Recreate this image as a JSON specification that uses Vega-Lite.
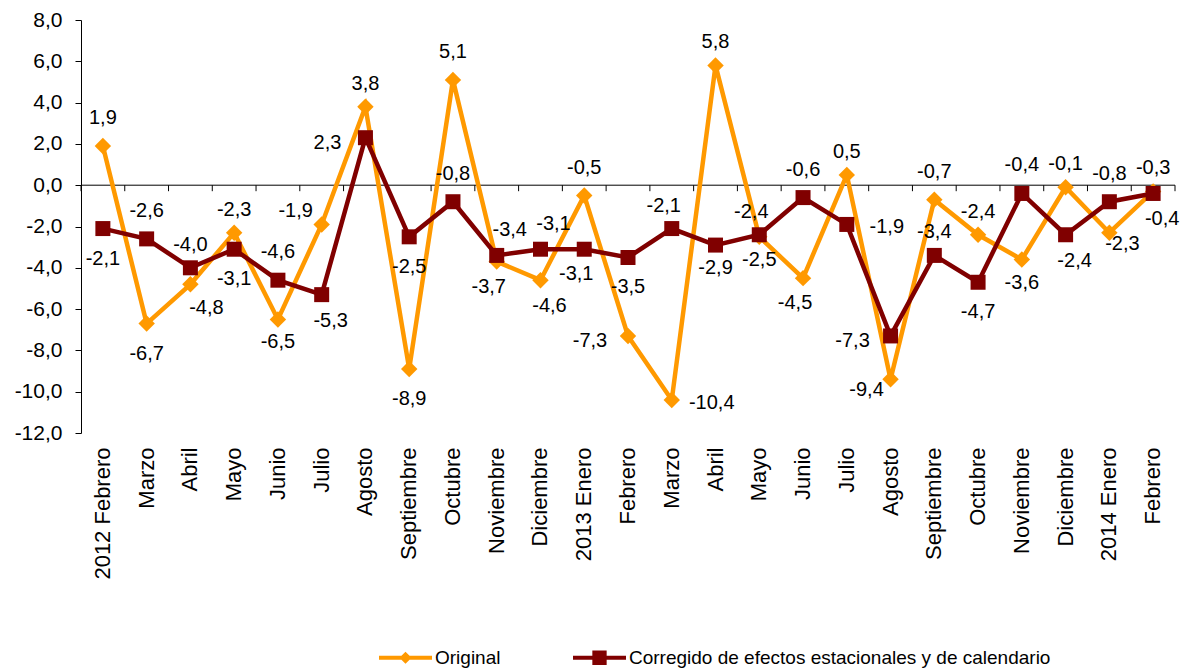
{
  "$schema": "https://vega.github.io/schema/vega-lite/v6.json",
  "width": 1094,
  "height": 413,
  "autosize": {"type": "none"},
  "padding": {"left": 81, "top": 20, "right": 12, "bottom": 236},
  "background": "white",
  "config": {
    "view": {"stroke": null},
    "font": "Liberation Sans",
    "locale": {"number": {"decimal": ",", "thousands": ".", "grouping": [3], "currency": ["", " €"], "minus": "-"}}
  },
  "data": {"values": [
    {"periodo": "2012-02", "serie": "Original", "valor": 1.9},
    {"periodo": "2012-03", "serie": "Original", "valor": -6.7},
    {"periodo": "2012-04", "serie": "Original", "valor": -4.8},
    {"periodo": "2012-05", "serie": "Original", "valor": -2.3},
    {"periodo": "2012-06", "serie": "Original", "valor": -6.5},
    {"periodo": "2012-07", "serie": "Original", "valor": -1.9},
    {"periodo": "2012-08", "serie": "Original", "valor": 3.8},
    {"periodo": "2012-09", "serie": "Original", "valor": -8.9},
    {"periodo": "2012-10", "serie": "Original", "valor": 5.1},
    {"periodo": "2012-11", "serie": "Original", "valor": -3.7},
    {"periodo": "2012-12", "serie": "Original", "valor": -4.6},
    {"periodo": "2013-01", "serie": "Original", "valor": -0.5},
    {"periodo": "2013-02", "serie": "Original", "valor": -7.3},
    {"periodo": "2013-03", "serie": "Original", "valor": -10.4},
    {"periodo": "2013-04", "serie": "Original", "valor": 5.8},
    {"periodo": "2013-05", "serie": "Original", "valor": -2.5},
    {"periodo": "2013-06", "serie": "Original", "valor": -4.5},
    {"periodo": "2013-07", "serie": "Original", "valor": 0.5},
    {"periodo": "2013-08", "serie": "Original", "valor": -9.4},
    {"periodo": "2013-09", "serie": "Original", "valor": -0.7},
    {"periodo": "2013-10", "serie": "Original", "valor": -2.4},
    {"periodo": "2013-11", "serie": "Original", "valor": -3.6},
    {"periodo": "2013-12", "serie": "Original", "valor": -0.1},
    {"periodo": "2014-01", "serie": "Original", "valor": -2.3},
    {"periodo": "2014-02", "serie": "Original", "valor": -0.3},
    {"periodo": "2012-02", "serie": "Corregido de efectos estacionales y de calendario", "valor": -2.1},
    {"periodo": "2012-03", "serie": "Corregido de efectos estacionales y de calendario", "valor": -2.6},
    {"periodo": "2012-04", "serie": "Corregido de efectos estacionales y de calendario", "valor": -4.0},
    {"periodo": "2012-05", "serie": "Corregido de efectos estacionales y de calendario", "valor": -3.1},
    {"periodo": "2012-06", "serie": "Corregido de efectos estacionales y de calendario", "valor": -4.6},
    {"periodo": "2012-07", "serie": "Corregido de efectos estacionales y de calendario", "valor": -5.3},
    {"periodo": "2012-08", "serie": "Corregido de efectos estacionales y de calendario", "valor": 2.3},
    {"periodo": "2012-09", "serie": "Corregido de efectos estacionales y de calendario", "valor": -2.5},
    {"periodo": "2012-10", "serie": "Corregido de efectos estacionales y de calendario", "valor": -0.8},
    {"periodo": "2012-11", "serie": "Corregido de efectos estacionales y de calendario", "valor": -3.4},
    {"periodo": "2012-12", "serie": "Corregido de efectos estacionales y de calendario", "valor": -3.1},
    {"periodo": "2013-01", "serie": "Corregido de efectos estacionales y de calendario", "valor": -3.1},
    {"periodo": "2013-02", "serie": "Corregido de efectos estacionales y de calendario", "valor": -3.5},
    {"periodo": "2013-03", "serie": "Corregido de efectos estacionales y de calendario", "valor": -2.1},
    {"periodo": "2013-04", "serie": "Corregido de efectos estacionales y de calendario", "valor": -2.9},
    {"periodo": "2013-05", "serie": "Corregido de efectos estacionales y de calendario", "valor": -2.4},
    {"periodo": "2013-06", "serie": "Corregido de efectos estacionales y de calendario", "valor": -0.6},
    {"periodo": "2013-07", "serie": "Corregido de efectos estacionales y de calendario", "valor": -1.9},
    {"periodo": "2013-08", "serie": "Corregido de efectos estacionales y de calendario", "valor": -7.3},
    {"periodo": "2013-09", "serie": "Corregido de efectos estacionales y de calendario", "valor": -3.4},
    {"periodo": "2013-10", "serie": "Corregido de efectos estacionales y de calendario", "valor": -4.7},
    {"periodo": "2013-11", "serie": "Corregido de efectos estacionales y de calendario", "valor": -0.4},
    {"periodo": "2013-12", "serie": "Corregido de efectos estacionales y de calendario", "valor": -2.4},
    {"periodo": "2014-01", "serie": "Corregido de efectos estacionales y de calendario", "valor": -0.8},
    {"periodo": "2014-02", "serie": "Corregido de efectos estacionales y de calendario", "valor": -0.4}
  ]},
  "layer": [
    {"data": {"values": [{}]},
     "mark": {"type": "rule", "color": "#000000", "strokeWidth": 1},
     "encoding": {"y": {"datum": 0, "type": "quantitative"}}},
    {
      "encoding": {
        "x": {
          "field": "periodo", "type": "ordinal",
          "scale": {"type": "band", "paddingInner": 0, "paddingOuter": 0},
          "axis": {
            "title": null, "orient": "bottom",
            "domain": false, "ticks": false,
            "grid": false, "labelAngle": -90, "labelPadding": 14, "labelOverlap": false,
            "labelFontSize": 22, "labelFont": "Liberation Sans", "labelColor": "#000000",
            "labelExpr": "(datum.value == '2012-02' || slice(datum.value, 5) == '01' ? slice(datum.value, 0, 4) + ' ' : '') + ['Enero','Febrero','Marzo','Abril','Mayo','Junio','Julio','Agosto','Septiembre','Octubre','Noviembre','Diciembre'][toNumber(slice(datum.value, 5)) - 1]"
          }
        },
        "y": {
          "field": "valor", "type": "quantitative",
          "scale": {"domain": [-12, 8], "nice": false, "zero": false},
          "axis": {
            "title": null, "values": [-12, -10, -8, -6, -4, -2, 0, 2, 4, 6, 8], "format": ".1f",
            "grid": false, "domainColor": "#000000", "tickColor": "#000000", "tickSize": 6,
            "labelPadding": 13, "labelFontSize": 21, "labelFont": "Liberation Sans", "labelColor": "#000000"
          }
        }
      },
      "layer": [
        {"transform": [{"filter": "datum.serie == 'Original'"}],
         "mark": {"type": "rule", "color": "#000000", "strokeWidth": 1},
         "encoding": {"x": {"field": "periodo", "type": "ordinal", "bandPosition": 0}, "y": {"datum": 0, "type": "quantitative"}, "y2": {"datum": -0.29}}},
        {"transform": [{"filter": "datum.serie == 'Original' && datum.periodo == '2014-02'"}],
         "mark": {"type": "rule", "color": "#000000", "strokeWidth": 1},
         "encoding": {"x": {"field": "periodo", "type": "ordinal", "bandPosition": 1}, "y": {"datum": 0, "type": "quantitative"}, "y2": {"datum": -0.29}}},
        {"transform": [{"filter": "datum.serie == 'Original'"}],
         "mark": {"type": "line", "color": "#FF9900", "strokeWidth": 4.5}},
        {"transform": [{"filter": "datum.serie == 'Original'"}],
         "mark": {"type": "point", "shape": "diamond", "filled": true, "size": 270, "color": "#FF9900", "opacity": 1}},
        {"transform": [{"filter": "datum.serie != 'Original'"}],
         "mark": {"type": "line", "color": "#800000", "strokeWidth": 4.5}},
        {"transform": [{"filter": "datum.serie != 'Original'"}],
         "mark": {"type": "point", "shape": "square", "filled": true, "size": 225, "color": "#800000", "opacity": 1}},
        {"transform": [{"filter": "indexof(['O2012-05','O2012-08','O2013-04','O2013-07','O2013-10','O2013-12','O2014-02','C2012-04','C2013-09'], slice(datum.serie,0,1) + datum.periodo) >= 0"}],
         "mark": {"type": "text", "dx": 0, "dy": -23, "fontSize": 20, "font": "Liberation Sans", "color": "#000000"},
         "encoding": {"text": {"field": "valor", "type": "quantitative", "format": ".1f"}}},
        {"transform": [{"filter": "indexof(['O2012-02','O2012-10','O2013-01','O2013-09','C2012-03','C2012-06','C2012-10','C2013-06','C2013-11','C2014-01'], slice(datum.serie,0,1) + datum.periodo) >= 0"}],
         "mark": {"type": "text", "dx": 0, "dy": -28, "fontSize": 20, "font": "Liberation Sans", "color": "#000000"},
         "encoding": {"text": {"field": "valor", "type": "quantitative", "format": ".1f"}}},
        {"transform": [{"filter": "indexof(['O2012-06','O2013-05','O2013-11','C2013-04'], slice(datum.serie,0,1) + datum.periodo) >= 0"}],
         "mark": {"type": "text", "dx": 0, "dy": 23, "fontSize": 20, "font": "Liberation Sans", "color": "#000000"},
         "encoding": {"text": {"field": "valor", "type": "quantitative", "format": ".1f"}}},
        {"transform": [{"filter": "indexof(['O2012-03','O2012-09','C2012-02','C2012-05','C2012-09','C2013-02','C2013-10'], slice(datum.serie,0,1) + datum.periodo) >= 0"}],
         "mark": {"type": "text", "dx": 0, "dy": 30, "fontSize": 20, "font": "Liberation Sans", "color": "#000000"},
         "encoding": {"text": {"field": "valor", "type": "quantitative", "format": ".1f"}}},
        {"transform": [{"filter": "indexof(['O2012-12','C2012-07','C2013-12','C2014-02'], slice(datum.serie,0,1) + datum.periodo) >= 0"}],
         "mark": {"type": "text", "dx": 9, "dy": 26, "fontSize": 20, "font": "Liberation Sans", "color": "#000000"},
         "encoding": {"text": {"field": "valor", "type": "quantitative", "format": ".1f"}}},
        {"transform": [{"filter": "indexof(['O2012-11','O2013-06','C2013-01'], slice(datum.serie,0,1) + datum.periodo) >= 0"}],
         "mark": {"type": "text", "dx": -8, "dy": 25, "fontSize": 20, "font": "Liberation Sans", "color": "#000000"},
         "encoding": {"text": {"field": "valor", "type": "quantitative", "format": ".1f"}}},
        {"transform": [{"filter": "indexof(['O2012-04'], slice(datum.serie,0,1) + datum.periodo) >= 0"}],
         "mark": {"type": "text", "dx": 16, "dy": 24, "fontSize": 20, "font": "Liberation Sans", "color": "#000000"},
         "encoding": {"text": {"field": "valor", "type": "quantitative", "format": ".1f"}}},
        {"transform": [{"filter": "indexof(['C2012-11','C2012-12'], slice(datum.serie,0,1) + datum.periodo) >= 0"}],
         "mark": {"type": "text", "dx": 13, "dy": -25, "fontSize": 20, "font": "Liberation Sans", "color": "#000000"},
         "encoding": {"text": {"field": "valor", "type": "quantitative", "format": ".1f"}}},
        {"transform": [{"filter": "indexof(['C2013-03','C2013-05'], slice(datum.serie,0,1) + datum.periodo) >= 0"}],
         "mark": {"type": "text", "dx": -8, "dy": -23, "fontSize": 20, "font": "Liberation Sans", "color": "#000000"},
         "encoding": {"text": {"field": "valor", "type": "quantitative", "format": ".1f"}}},
        {"transform": [{"filter": "indexof(['O2013-02','C2012-08','C2013-08'], slice(datum.serie,0,1) + datum.periodo) >= 0"}],
         "mark": {"type": "text", "dx": -38, "dy": 5, "fontSize": 20, "font": "Liberation Sans", "color": "#000000"},
         "encoding": {"text": {"field": "valor", "type": "quantitative", "format": ".1f"}}},
        {"transform": [{"filter": "indexof(['O2012-07'], slice(datum.serie,0,1) + datum.periodo) >= 0"}],
         "mark": {"type": "text", "dx": -26, "dy": -13, "fontSize": 20, "font": "Liberation Sans", "color": "#000000"},
         "encoding": {"text": {"field": "valor", "type": "quantitative", "format": ".1f"}}},
        {"transform": [{"filter": "indexof(['O2013-08'], slice(datum.serie,0,1) + datum.periodo) >= 0"}],
         "mark": {"type": "text", "dx": -24, "dy": 11, "fontSize": 20, "font": "Liberation Sans", "color": "#000000"},
         "encoding": {"text": {"field": "valor", "type": "quantitative", "format": ".1f"}}},
        {"transform": [{"filter": "indexof(['O2013-03','C2013-07'], slice(datum.serie,0,1) + datum.periodo) >= 0"}],
         "mark": {"type": "text", "dx": 40, "dy": 3, "fontSize": 20, "font": "Liberation Sans", "color": "#000000"},
         "encoding": {"text": {"field": "valor", "type": "quantitative", "format": ".1f"}}},
        {"transform": [{"filter": "indexof(['O2014-01'], slice(datum.serie,0,1) + datum.periodo) >= 0"}],
         "mark": {"type": "text", "dx": 13, "dy": 11, "fontSize": 20, "font": "Liberation Sans", "color": "#000000"},
         "encoding": {"text": {"field": "valor", "type": "quantitative", "format": ".1f"}}},
        {"transform": [{"filter": "false"}],
         "mark": {"type": "point", "filled": true, "opacity": 1},
         "encoding": {
           "color": {
             "field": "serie", "type": "nominal",
             "scale": {"domain": ["Original", "Corregido de efectos estacionales y de calendario"], "range": ["#FF9900", "#800000"]},
             "legend": {
               "title": null, "orient": "none", "legendX": 298, "legendY": 611, "direction": "horizontal",
               "symbolSize": 2809, "symbolStrokeWidth": 0, "labelFontSize": 19, "labelFont": "Liberation Sans",
               "labelColor": "#000000", "labelOffset": 3, "columnPadding": 72, "padding": 0, "labelLimit": 700
             }
           },
           "shape": {
             "field": "serie", "type": "nominal",
             "scale": {"domain": ["Original", "Corregido de efectos estacionales y de calendario"],
                       "range": ["M-1,-0.075H1V0.075H-1Z M0,-0.23L0.23,0L0,0.23L-0.23,0Z", "M-1,-0.075H1V0.075H-1Z M-0.27,-0.27H0.27V0.27H-0.27Z"]}
           }
         }}
      ]
    }
  ]
}
